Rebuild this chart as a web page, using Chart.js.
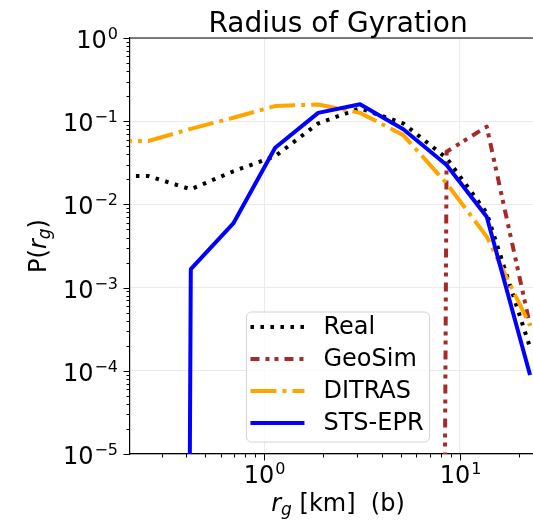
<!DOCTYPE html>
<html>
<head>
<meta charset="utf-8">
<script src="https://cdn.jsdelivr.net/npm/chart.js@4.4.0/dist/chart.umd.min.js"></script>
<style>
html, body { margin: 0; padding: 0; overflow: hidden; background: #fff; }
#wrap { position: relative; width: 546px; height: 525px; }
</style>
</head>
<body>
<div id="wrap"><canvas id="rg_chart"></canvas></div>
<script>
// radius of gyration bins (km) and P(r_g) per model
const rg_bins   = [0.156, 0.257, 0.423, 0.697, 1.14, 1.89, 3.09, 5.14, 8.55, 13.7, 22.8];
const real_p    = [0.0219, 0.0219, 0.0152, 0.025, 0.038, 0.094, 0.143, 0.094, 0.036, 0.0079, 0.00019];
const geosim_p  = [0, 0, 0, 0, 0, 0, 0, 0, 0.043, 0.086, 0.00035];
const ditras_p  = [0.0578, 0.0578, 0.081, 0.11, 0.152, 0.159, 0.126, 0.068, 0.0179, 0.0041, 0.00035];
const stsepr_p  = [0, 0, 0.00167, 0.0059, 0.048, 0.126, 0.160, 0.080, 0.0298, 0.0071, 0.000089];
const series_names = ["Real", "GeoSim", "DITRAS", "STS-EPR"];
const x_decades = [-1, 0, 1];
const y_decades = [-5, -4, -3, -2, -1, 0];

const FONT = "DejaVu Sans";

// zeros get clipped far below the axis, like matplotlib does on a log axis
function toPoints(ys){
  return rg_bins.map((x, i) => ({x: x, y: ys[i] > 0 ? ys[i] : 1e-100}));
}

function decadeTicks(decades, min, max){
  var out = [];
  decades.forEach(d => {
    for (var m = 1; m <= 9; m++){
      var v = m * Math.pow(10, d);
      if (v >= min * 0.9999 && v <= max * 1.0001) out.push({value: v, major: m === 1, exp: d});
    }
  });
  return out;
}

// "10" with a raised exponent, like matplotlib's mathtext
function powLabel(ctx, exp, x, baseline, align){
  var base = "10", sup = String(exp).replace("-", "\u2212");
  ctx.font = "24px " + FONT;
  var wb = ctx.measureText(base).width;
  ctx.font = "16px " + FONT;
  var ws = ctx.measureText(sup).width;
  var left = align === "right" ? x - wb - ws - 1 : x - (wb + ws + 1) / 2;
  ctx.textAlign = "left";
  ctx.font = "24px " + FONT;
  ctx.fillText(base, left, baseline);
  ctx.font = "16px " + FONT;
  ctx.fillText(sup, left + wb + 1, baseline - 9);
}

function drawParts(ctx, parts, cx, baseline){
  var total = 0;
  parts.forEach(p => { ctx.font = p.f; p.w = ctx.measureText(p.t).width; total += p.w; });
  var x = cx - total / 2;
  parts.forEach(p => {
    ctx.font = p.f;
    ctx.fillText(p.t, x, baseline + (p.dy || 0));
    x += p.w;
  });
}

const decor = {
  id: "decor",
  afterDraw(chart){
    const ctx = chart.ctx, a = chart.chartArea;
    const xs = chart.scales.x, ys = chart.scales.y;
    ctx.save();
    ctx.strokeStyle = "#000";
    ctx.lineWidth = 1.2;
    // top spine
    ctx.beginPath();
    ctx.moveTo(a.left, a.top);
    ctx.lineTo(a.right, a.top);
    ctx.stroke();

    ctx.fillStyle = "#000";
    ctx.textBaseline = "alphabetic";
    // tick marks + labels
    ctx.lineWidth = 1;
    xs.ticks.forEach(t => {
      var px = Math.round(xs.getPixelForValue(t.value)) + 0.5;
      var len = t.major ? 6.5 : 3.5;
      ctx.beginPath(); ctx.moveTo(px, a.bottom); ctx.lineTo(px, a.bottom + len); ctx.stroke();
      if (t.major) powLabel(ctx, t.exp, px, a.bottom + 29, "center");
    });
    ys.ticks.forEach(t => {
      var py = Math.round(ys.getPixelForValue(t.value)) + 0.5;
      var len = t.major ? 6.5 : 3.5;
      ctx.beginPath(); ctx.moveTo(a.left, py); ctx.lineTo(a.left - len, py); ctx.stroke();
      if (t.major) powLabel(ctx, t.exp, a.left - 12, py + 9, "right");
    });

    var cx = (a.left + a.right) / 2;

    // title
    ctx.font = "28px " + FONT;
    ctx.textAlign = "center";
    ctx.fillText("Radius of Gyration", cx, 32);
    ctx.textAlign = "left";

    // x axis title
    drawParts(ctx, [
      {t: "r", f: "italic 24px " + FONT},
      {t: "g", f: "italic 17px " + FONT, dy: 4},
      {t: " [km]  (b)", f: "24px " + FONT}
    ], cx, 511);

    // y axis title
    ctx.save();
    ctx.translate(46, (a.top + a.bottom) / 2);
    ctx.rotate(-Math.PI / 2);
    drawParts(ctx, [
      {t: "P(", f: "24px " + FONT},
      {t: "r", f: "italic 24px " + FONT},
      {t: "g", f: "italic 17px " + FONT, dy: 4},
      {t: ")", f: "24px " + FONT}
    ], 0, 0);
    ctx.restore();

    // legend, lower center
    var ds = chart.data.datasets;
    ctx.font = "24px " + FONT;
    var tw = 0;
    ds.forEach(d => { tw = Math.max(tw, ctx.measureText(d.label).width); });
    var sampleLen = 54, rowH = 32;
    var bw = 4 + sampleLen + 19 + tw + 6;
    var bh = 14 + rowH * ds.length - 12;
    var bx = cx - bw / 2, by = a.bottom - 12 - bh;
    ctx.beginPath();
    ctx.roundRect(bx, by, bw, bh, 5);
    ctx.fillStyle = "rgba(255,255,255,0.8)";
    ctx.fill();
    ctx.strokeStyle = "#d4d4d4";
    ctx.lineWidth = 1;
    ctx.stroke();
    ds.forEach((d, i) => {
      var ry = by + 15 + i * rowH;
      ctx.save();
      ctx.strokeStyle = d.borderColor;
      ctx.lineWidth = d.borderWidth;
      ctx.setLineDash(d.borderDash || []);
      ctx.lineCap = "butt";
      ctx.beginPath();
      ctx.moveTo(bx + 4, ry);
      ctx.lineTo(bx + 4 + sampleLen, ry);
      ctx.stroke();
      ctx.restore();
      ctx.fillStyle = "#000";
      ctx.textBaseline = "middle";
      ctx.fillText(d.label, bx + 4 + sampleLen + 19, ry + 1);
    });
    ctx.restore();
  }
};

var config = {
  type: "line",
  data: {
    datasets: [
      {label: series_names[0], data: toPoints(real_p), borderColor: "#000000", borderWidth: 4, borderDash: [3.5, 6.5], order: 4},
      {label: series_names[1], data: toPoints(geosim_p), borderColor: "#a52a2a", borderWidth: 4, borderDash: [9, 6, 4, 5, 4, 6], order: 3},
      {label: series_names[2], data: toPoints(ditras_p), borderColor: "#ffa500", borderWidth: 4, borderDash: [26, 6, 4, 6], order: 2},
      {label: series_names[3], data: toPoints(stsepr_p), borderColor: "#0000ff", borderWidth: 4, order: 1}
    ]
  },
  options: {
    responsive: true,
    maintainAspectRatio: false,
    animation: false,
    layout: {padding: {top: 38, right: 0, left: 0, bottom: 0}},
    elements: {
      point: {radius: 0, hoverRadius: 0},
      line: {tension: 0, fill: false, borderCapStyle: "butt", borderJoinStyle: "round"}
    },
    datasets: {line: {clip: 0}},
    plugins: {
      legend: {display: false},
      title: {display: false},
      tooltip: {enabled: false}
    },
    scales: {
      x: {
        type: "logarithmic",
        min: 0.207,
        max: 27.5,
        afterFit: s => { s.height = 71; },
        afterBuildTicks: s => { s.ticks = decadeTicks(x_decades, s.min, s.max); },
        ticks: {display: false},
        grid: {
          drawTicks: false,
          color: c => (c.tick && c.tick.major) ? "#ebebeb" : "rgba(0,0,0,0)",
          lineWidth: 1
        },
        border: {display: true, color: "#000", width: 1.2}
      },
      y: {
        type: "logarithmic",
        min: 1e-5,
        max: 1,
        afterFit: s => { s.width = 130; },
        afterBuildTicks: s => { s.ticks = decadeTicks(y_decades, s.min, s.max); },
        ticks: {display: false},
        grid: {
          drawTicks: false,
          color: c => (c.tick && c.tick.major) ? "#ebebeb" : "rgba(0,0,0,0)",
          lineWidth: 1
        },
        border: {display: true, color: "#000", width: 1.2}
      }
    }
  },
  plugins: [decor]
};

let rg_chart = new Chart("rg_chart", config);
</script>
</body>
</html>
